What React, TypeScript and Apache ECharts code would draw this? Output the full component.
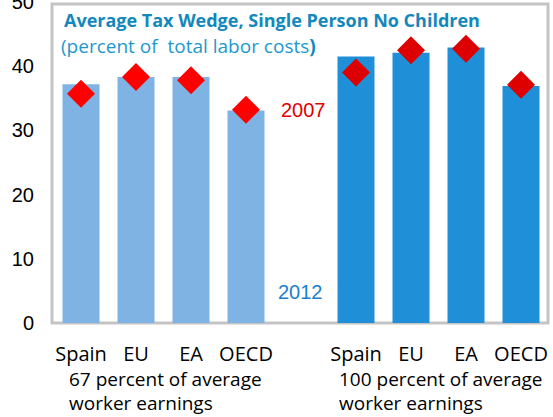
import React, { useEffect, useRef } from "react";
import * as echarts from "echarts";

const categories = ["Spain", "EU", "EA", "OECD", "", "Spain", "EU", "EA", "OECD"];
const wedge2012Low = [37.2, 38.3, 38.3, 33.1];
const wedge2012High = [41.5, 42.1, 42.9, 36.9];
const wedge2007Low = [35.7, 38.3, 37.8, 33.2];
const wedge2007High = [39.0, 42.5, 42.7, 37.1];
const yTicks = [0, 10, 20, 30, 40, 50];
const groupNotes = [
  ["67 percent of average", "worker earnings"],
  ["100 percent of average", "worker earnings"],
];

const LIGHT = "#7FB3E4";
const DARK = "#1F8FD8";
const RED_L = "#FF0000";
const RED_D = "#DE0000";

export default function App() {
  const ref = useRef<HTMLDivElement>(null);
  useEffect(() => {
    if (!ref.current) return;
    const chart = echarts.init(ref.current, null, { renderer: "svg" });
    const barData = [
      ...wedge2012Low.map((v) => ({ value: v, itemStyle: { color: LIGHT } })),
      "-",
      ...wedge2012High.map((v) => ({ value: v, itemStyle: { color: DARK } })),
    ];
    const dotData = [
      ...wedge2007Low.map((v) => ({ value: v, itemStyle: { color: RED_L } })),
      "-",
      ...wedge2007High.map((v) => ({ value: v, itemStyle: { color: RED_D } })),
    ];
    const noteX = [69, 339];
    const noteTexts: any[] = [];
    groupNotes.forEach((lines, gi) => {
      lines.forEach((line, li) => {
        noteTexts.push({
          type: "text",
          z: 10,
          left: noteX[gi],
          top: 369 + li * 24,
          style: {
            text: line,
            fontFamily: "Open Sans",
            fontSize: 19,
            lineHeight: 20,
            fill: "#000",
          },
        });
      });
    });
    chart.setOption({
      animation: false,
      grid: { left: 53.5, right: 4.5, top: 2, bottom: 94, containLabel: false, outerBoundsMode: "none" },
      xAxis: {
        type: "category",
        data: categories,
        axisLine: { show: false },
        axisTick: { show: false },
        axisLabel: { fontFamily: "Open Sans", fontSize: 20, color: "#000", margin: 20, interval: 0 },
      },
      yAxis: {
        type: "value",
        min: yTicks[0],
        max: yTicks[yTicks.length - 1],
        interval: 10,
        splitLine: { show: false },
        axisLine: { show: false },
        axisTick: { show: false },
        axisLabel: { fontFamily: "Liberation Sans, Arial", fontSize: 20, color: "#000", margin: 19.5 },
      },
      graphic: [
        {
          type: "rect",
          z: 0,
          shape: { x: 52, y: 4, width: 496, height: 319 },
          style: { fill: "none", stroke: "#C4C4C4", lineWidth: 3 },
        },
        {
          type: "text",
          z: 10,
          left: 64,
          top: 11,
          style: {
            text: "Average Tax Wedge, Single Person No Children",
            fontFamily: "Open Sans",
            fontWeight: "bold",
            fontSize: 18,
            fill: "#1388BC",
          },
        },
        {
          type: "text",
          z: 10,
          left: 61,
          top: 36,
          style: {
            text: "{a|(percent of  total labor costs}{b|)}",
            rich: {
              a: { fontFamily: "Open Sans", fontSize: 19, fill: "#1E98CC", color: "#1E98CC" },
              b: { fontFamily: "Open Sans", fontSize: 19, fontWeight: "bold", fill: "#1388BC", color: "#1388BC" },
            },
          },
        },
        {
          type: "text",
          z: 10,
          left: 281,
          top: 100,
          style: { text: "2007", fontFamily: "Liberation Sans, Arial", fontSize: 20, fill: "#E00000" },
        },
        {
          type: "text",
          z: 10,
          left: 278,
          top: 282,
          style: { text: "2012", fontFamily: "Liberation Sans, Arial", fontSize: 20, fill: "#1A7FD0" },
        },
        ...noteTexts,
      ],
      series: [
        {
          type: "bar",
          data: barData,
          barWidth: 37,
          z: 2,
        },
        {
          type: "scatter",
          data: dotData,
          symbol: "diamond",
          symbolSize: 28,
          itemStyle: { opacity: 1 },
          z: 3,
        },
      ],
    });
    return () => chart.dispose();
  }, []);
  return <div ref={ref} style={{ width: 553, height: 417, position: "absolute", left: 0, top: 0 }} />;
}
